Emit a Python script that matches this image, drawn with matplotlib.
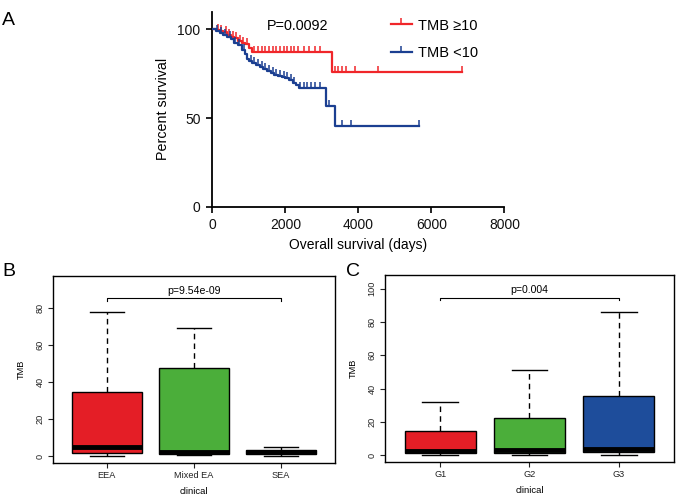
import numpy as np
import matplotlib
matplotlib.use("Agg")
from matplotlib import pyplot as plt
from matplotlib.lines import Line2D

plt.rcParams['font.family'] = ['Liberation Sans', 'DejaVu Sans']

# ---- panel A: Kaplan-Meier steps (days, percent survival)
hi_t = [0, 100, 200, 300, 400, 500, 600, 700, 800, 900, 1000, 1080, 3267]
hi_s = [100, 99.5, 99, 98.5, 97, 96, 95, 93.5, 92.5, 91.5, 89.5, 87.2, 75.9]
hi_end = 6850
hi_cens = [150, 250, 380, 450, 560, 650, 760, 850, 950, 1150, 1250, 1350, 1450, 1550,
           1650, 1750, 1850, 1950, 2050, 2150, 2250, 2350, 2500, 2650, 2800, 2950,
           3350, 3450, 3550, 3650, 3900, 4550, 6850]

lo_t = [0, 100, 200, 300, 400, 500, 600, 700, 800, 900, 950, 1000, 1100, 1200, 1300,
        1400, 1500, 1600, 1700, 1800, 1900, 2000, 2100, 2200, 2300, 2360, 3100, 3360]
lo_s = [100, 99, 98, 97, 96, 94.5, 92.5, 91, 88.5, 86, 83.5, 82, 81, 80, 79,
        77.5, 76.5, 75.5, 74.5, 74, 73, 72.5, 71.5, 70, 68.5, 67, 56.8, 45.3]
lo_end = 5650
lo_cens = [120, 230, 350, 480, 620, 740, 880, 1050, 1150, 1250, 1350, 1450, 1550, 1650,
           1750, 1850, 1950, 2050, 2150, 2250, 2400, 2500, 2600, 2700, 2800, 2950,
           3200, 3550, 3800, 5650]

p_km = "P=0.0092"

# ---- panel B / C box stats
b_groups = ["EEA", "Mixed EA", "SEA"]
b_q1 = [1.8, 0.9, 0.9]
b_med = [4.8, 2.2, 2.0]
b_q3 = [34.8, 47.8, 3.1]
b_lo = [0.0, 0.8, 0.0]
b_hi = [77.8, 69.5, 4.8]
b_p = "p=9.54e-09"

c_groups = ["G1", "G2", "G3"]
c_q1 = [1.4, 1.4, 1.6]
c_med = [2.4, 2.8, 3.6]
c_q3 = [14.4, 22.4, 35.6]
c_lo = [0.0, 0.3, 0.0]
c_hi = [32.0, 51.4, 86.0]
c_p = "p=0.004"

red = "#E41E26"
green = "#4BAE3A"
blue = "#1E4D9B"
km_red = "#F0262A"
km_blue = "#1B3F91"

fig = plt.figure(figsize=(6.79, 4.96), dpi=100)


def km_draw(ax, t, s, end, cens, color):
    tt = list(t) + [end]
    ss = list(s) + [s[-1]]
    ax.step(tt, ss, where="post", color=color, lw=1.6, zorder=3)
    idx = np.searchsorted(np.array(t), np.array(cens), side="right") - 1
    cy = np.array(s)[idx]
    ax.plot(cens, cy, ls="none", marker=2, ms=4.5, mew=1.1, color=color, zorder=3)


ax1 = fig.add_axes([0.3127, 0.5833, 0.4303, 0.3931])
km_draw(ax1, hi_t, hi_s, hi_end, hi_cens, km_red)
km_draw(ax1, lo_t, lo_s, lo_end, lo_cens, km_blue)
ax1.set_xlim(0, 8000)
ax1.set_ylim(0, 110)
ax1.set_xticks([0, 2000, 4000, 6000, 8000])
ax1.set_yticks([0, 50, 100])
for sp in ["top", "right"]:
    ax1.spines[sp].set_visible(False)
for sp in ["left", "bottom"]:
    ax1.spines[sp].set_linewidth(1.3)
ax1.tick_params(width=1.3, length=4, labelsize=10, colors="#111111")
ax1.tick_params(axis="x", pad=4.5)
ax1.tick_params(axis="y", pad=4.5)
ax1.set_xlabel("Overall survival (days)", fontsize=10, labelpad=4)
ax1.set_ylabel("Percent survival", fontsize=10.3, labelpad=5)
ax1.text(0.185, 0.928, p_km, transform=ax1.transAxes, fontsize=10.4,
         ha="left", va="center")
handles = [Line2D([], [], color=km_red, lw=1.6, marker=2, ms=4.5, mew=1.1),
           Line2D([], [], color=km_blue, lw=1.6, marker=2, ms=4.5, mew=1.1)]
ax1.legend(handles, ["TMB \u226510", "TMB <10"], loc="upper left",
           bbox_to_anchor=(0.611, 0.965), frameon=False, numpoints=1,
           handlelength=1.45, handletextpad=0.4, labelspacing=0.95,
           fontsize=10.5, borderpad=0, borderaxespad=0)
fig.text(0.003, 0.975, "A", fontsize=14, va="top", ha="left")


def box_panel(ax, groups, q1, med, q3, lo, hi, colors, ymax, yticks, ptext, py):
    stats = []
    for i in range(len(groups)):
        stats.append(dict(med=med[i], q1=q1[i], q3=q3[i], whislo=lo[i], whishi=hi[i],
                          fliers=[]))
    bp = ax.bxp(stats, positions=[1, 2, 3], widths=0.8, capwidths=0.4,
                patch_artist=True, showfliers=False,
                boxprops=dict(edgecolor="black", linewidth=1.0),
                medianprops=dict(color="black", linewidth=3.5, solid_capstyle="butt"),
                whiskerprops=dict(color="black", linestyle=(0, (4, 3)), linewidth=1.0),
                capprops=dict(color="black", linewidth=1.0))
    for patch, c in zip(bp["boxes"], colors):
        patch.set_facecolor(c)
    ax.set_xlim(0.38, 3.62)
    rng = ymax * 0.04
    ax.set_ylim(-rng, ymax + rng)
    ax.set_yticks(yticks)
    ax.set_xticks([1, 2, 3])
    ax.set_xticklabels(groups)
    ax.tick_params(labelsize=6.6, length=3.5, width=0.8, pad=2.5, colors="#222222")
    for lab in ax.get_yticklabels():
        lab.set_rotation(90)
        lab.set_va("center")
    for sp in ax.spines.values():
        sp.set_linewidth(1.0)
    ax.set_ylabel("TMB", fontsize=6.6, labelpad=7)
    ax.set_xlabel("clinical", fontsize=6.8, labelpad=5)
    # bracket
    d = ymax * 0.014
    ax.plot([1, 1, 3, 3], [py - d, py, py, py - d], color="black", lw=0.8)
    ax.text(2, py + ymax * 0.015, ptext, ha="center", va="bottom", fontsize=7.6)


ax2 = fig.add_axes([0.078, 0.0665, 0.4153, 0.377])
box_panel(ax2, b_groups, b_q1, b_med, b_q3, b_lo, b_hi, [red, green, blue],
          93.6, [0, 20, 40, 60, 80], b_p, 85.4)
fig.text(0.003, 0.47, "B", fontsize=14, va="top", ha="left")

ax3 = fig.add_axes([0.567, 0.0685, 0.4256, 0.377])
box_panel(ax3, c_groups, c_q1, c_med, c_q3, c_lo, c_hi, [red, green, blue],
          104, [0, 20, 40, 60, 80, 100], c_p, 94.6)
fig.text(0.51, 0.47, "C", fontsize=14, va="top", ha="left")

fig.savefig("out.png", dpi=100)
